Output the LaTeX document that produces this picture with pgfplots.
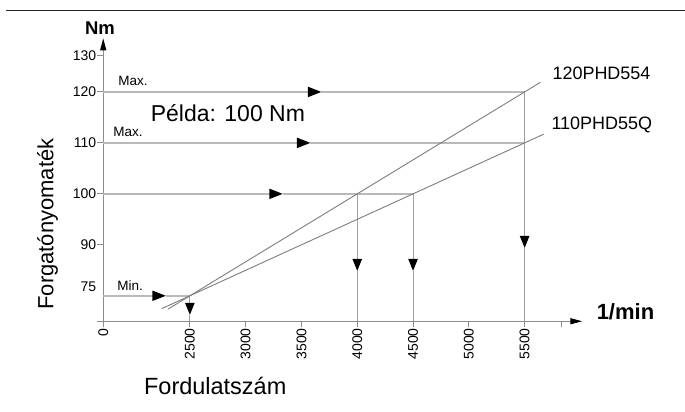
\documentclass[border=0pt]{standalone}
\usepackage{fontspec}
\setmainfont{Liberation Sans}
\usepackage{pgfplots}
\pgfplotsset{compat=1.18}
\usetikzlibrary{arrows.meta}
\definecolor{hline}{RGB}{185,185,185}
\definecolor{dline}{RGB}{125,125,125}
\definecolor{vline}{RGB}{160,160,160}
\definecolor{axline}{RGB}{140,140,140}
\tikzset{
  hl/.style={hline, line width=1.8pt},
  dl/.style={dline, line width=0.9pt},
  vl/.style={vline, line width=1pt},
  harr/.style={-{Triangle[length=13.5pt,width=10pt,black]}},
  varr/.style={-{Triangle[length=12pt,width=9.5pt,black]}},
}
\begin{document}
\begin{tikzpicture}
\fill[white] (0,0) rectangle (685pt,412pt);
\draw[line width=1pt, black!85] (6pt,401.3pt) -- (685pt,401.3pt);
\begin{axis}[
  at={(103.3pt,90.5pt)}, anchor=south west,
  scale only axis, width=479.4pt, height=283.2pt,
  xmin=1723.6, xmax=6016.7, ymin=75, ymax=130.53,
  axis lines=left,
  axis line style={axline, line width=1.2pt, shorten <=-6pt, -{Triangle[length=12pt,width=6pt,black]}},
  clip=false,
  tick align=outside,
  major tick length=6pt,
  tick style={axline, line width=1pt},
  xtick={1723.6,2500,3000,3500,4000,4500,5000,5500},
  xticklabels={0,2500,3000,3500,4000,4500,5000,5500},
  extra x ticks={5828}, extra x tick labels={},
  extra x tick style={grid=none},
  ytick={90,100,110,120,127.06},
  yticklabels={90,100,110,120,130},
  extra y ticks={81.83}, extra y tick labels={75},
  extra y tick style={grid=none, tick style={draw opacity=0}},
  xticklabel style={rotate=90, anchor=east, font=\fontsize{14}{16}\selectfont},
  yticklabel style={font=\fontsize{14}{16}\selectfont},
  xticklabel shift=-2.5pt,
  yticklabel shift=-2.5pt,
  /pgf/number format/assume math mode=true,
]
% horizontal guide lines
\addplot[hl, harr] coordinates {(1723.6,120) (3679,120)};
\addplot[hl] coordinates {(3679,120) (5500,120)};
\addplot[hl, harr] coordinates {(1723.6,110) (3581,110)};
\addplot[hl] coordinates {(3581,110) (5500,110)};
\addplot[hl, harr] coordinates {(1723.6,100) (3333,100)};
\addplot[hl] coordinates {(3333,100) (4500,100)};
\addplot[hl, harr] coordinates {(1723.6,80) (2285,80)};
\addplot[hl] coordinates {(2285,80) (2500,80)};
% vertical lines
\addplot[vl, varr] coordinates {(2500,80) (2500,76.27)};
\addplot[vl] coordinates {(2500,76.27) (2500,75)};
\addplot[vl, varr] coordinates {(4000,100) (4000,84.9)};
\addplot[vl] coordinates {(4000,84.9) (4000,75)};
\addplot[vl, varr] coordinates {(4500,100) (4500,84.9)};
\addplot[vl] coordinates {(4500,84.9) (4500,75)};
\addplot[vl, varr] coordinates {(5500,120) (5500,89.4)};
\addplot[vl] coordinates {(5500,89.4) (5500,75)};
% motor lines
\addplot[dl] coordinates {(2303,77.37) (5641,121.88)};
\addplot[dl] coordinates {(2247,77.47) (5670,111.70)};
\end{axis}
\node[anchor=base west, inner sep=0, font=\bfseries\fontsize{18.5}{20}\selectfont] at (85pt,377pt) {Nm};
\node[anchor=base west, inner sep=0, font=\bfseries\fontsize{22}{24}\selectfont] at (597pt,92pt) {1/min};
\node[anchor=base west, inner sep=0, font=\fontsize{18}{20}\selectfont] at (552.7pt,332pt) {120PHD554};
\node[anchor=base west, inner sep=0, font=\fontsize{18}{20}\selectfont] at (551.7pt,282.7pt) {110PHD55Q};
\node[anchor=base west, inner sep=0, font=\fontsize{23}{25}\selectfont] at (150.7pt,290.3pt) {Példa: 100 Nm};
\node[anchor=base west, inner sep=0, font=\fontsize{13.5}{15}\selectfont] at (118.3pt,326.3pt) {Max.};
\node[anchor=base west, inner sep=0, font=\fontsize{13.5}{15}\selectfont] at (113.3pt,275.3pt) {Max.};
\node[anchor=base west, inner sep=0, font=\fontsize{13.5}{15}\selectfont] at (117.3pt,121.3pt) {Min.};
\node[anchor=base west, inner sep=0, rotate=90, font=\fontsize{22}{24}\selectfont] at (53.3pt,102pt) {Forgatónyomaték};
\node[anchor=base west, inner sep=0, font=\fontsize{23.5}{25}\selectfont] at (144pt,17pt) {Fordulatszám};
\end{tikzpicture}
\end{document}
